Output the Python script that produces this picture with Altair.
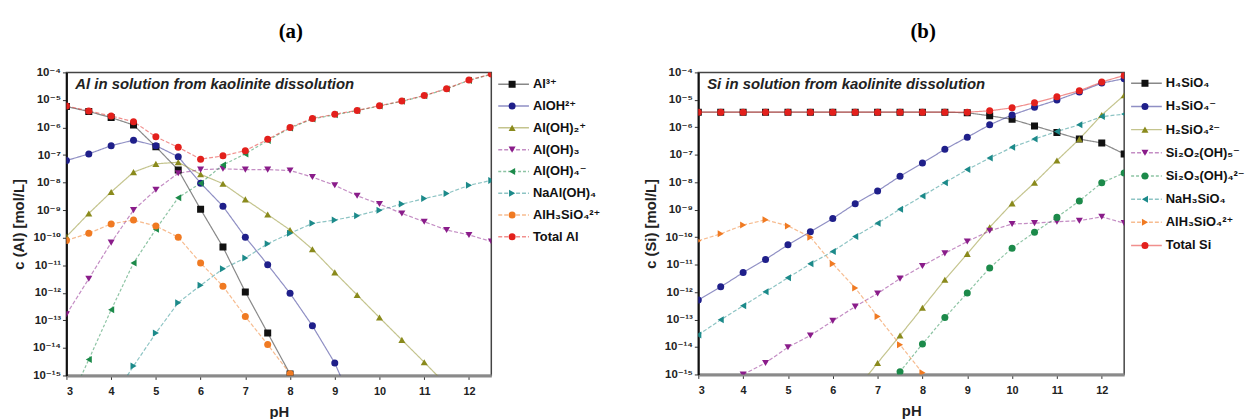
import altair as alt
import pandas as pd

PH = [3, 3.5, 4, 4.5, 5, 5.5, 6, 6.5, 7, 7.5, 8, 8.5, 9, 9.5, 10, 10.5, 11, 11.5, 12, 12.5]

# ---- panel (a): log10 of concentration [mol/L] ----
A_AL3 = [-5.24, -5.42, -5.64, -5.91, -6.70, -7.54, -8.97, -10.34, -11.97, -13.46, -14.95,
         None, None, None, None, None, None, None, None, None]
A_ALOH = [-7.20, -6.96, -6.66, -6.46, -6.66, -7.06, -8.02, -8.86, -9.98, -10.98, -12.02,
          -13.20, -14.55, -16.40, None, None, None, None, None, None]
A_ALOH2 = [-9.96, -9.12, -8.34, -7.62, -7.32, -7.26, -7.70, -8.04, -8.61, -9.16, -9.72,
           -10.42, -11.26, -12.08, -12.90, -13.71, -14.52, -15.35, None, None]
A_ALOH3 = [-12.78, -11.49, -10.18, -9.00, -8.26, -7.66, -7.53, -7.50, -7.53, -7.53, -7.56,
           -7.80, -8.10, -8.48, -8.78, -9.12, -9.42, -9.72, -9.90, -10.14]
A_ALOH4 = [-16.20, -14.42, -12.62, -10.92, -9.69, -8.55, -8.02, -7.36, -6.96, -6.47, -6.02,
           -5.69, -5.54, -5.39, -5.22, -5.05, -4.85, -4.60, -4.29, -4.07]
A_NAAL = [None, None, -15.90, -14.66, -13.46, -12.36, -11.73, -11.13, -10.74, -10.22, -9.84,
          -9.48, -9.36, -9.20, -9.00, -8.78, -8.58, -8.40, -8.10, -7.92]
A_ALSI = [-10.10, -9.84, -9.50, -9.36, -9.58, -9.98, -10.92, -11.76, -12.86, -13.88, -14.94,
          None, None, None, None, None, None, None, None, None]
A_TOTAL = [-5.22, -5.40, -5.58, -5.79, -6.34, -6.72, -7.15, -7.03, -6.84, -6.43, -6.00,
           -5.67, -5.52, -5.38, -5.21, -5.04, -4.84, -4.59, -4.28, -4.06]

A_NAMES = ["Al³⁺", "AlOH²⁺", "Al(OH)₂⁺", "Al(OH)₃", "Al(OH)₄⁻", "NaAl(OH)₄", "AlH₃SiO₄²⁺", "Total Al"]
A_SERIES = [A_AL3, A_ALOH, A_ALOH2, A_ALOH3, A_ALOH4, A_NAAL, A_ALSI, A_TOTAL]
A_COLORS = ["#111111", "#1f1f8a", "#8a8a1c", "#8a1c8a", "#1c8a4a", "#1c8a8a", "#f07a22", "#e3201c"]
A_SHAPES = ["square", "circle", "triangle-up", "triangle-down", "triangle-left", "triangle-right", "circle", "circle"]
A_DASH = [[1, 0], [1, 0], [1, 0], [4, 2], [3, 2], [4, 2], [4, 2], [4, 2]]

# ---- panel (b) ----
B_H4 = [-5.45, -5.45, -5.45, -5.45, -5.45, -5.45, -5.45, -5.45, -5.45, -5.45, -5.45,
        -5.45, -5.47, -5.58, -5.71, -5.95, -6.19, -6.43, -6.57, -6.97]
B_H3 = [-12.29, -11.81, -11.29, -10.81, -10.28, -9.80, -9.32, -8.78, -8.32, -7.78, -7.30,
        -6.80, -6.36, -5.91, -5.55, -5.27, -5.01, -4.71, -4.39, -4.23]
B_H2 = [None, None, None, None, None, None, None, -15.60, -14.58, -13.58, -12.57,
        -11.55, -10.61, -9.64, -8.77, -8.02, -7.21, -6.43, -5.55, -4.83]
B_SI2O2 = [None, None, -15.00, -14.58, -14.01, -13.58, -13.05, -12.53, -12.05, -11.51, -11.05,
           -10.59, -10.16, -9.77, -9.52, -9.49, -9.44, -9.40, -9.26, -9.49]
B_SI2O3 = [None, None, None, None, None, None, None, None, -15.90, -14.90, -13.89,
           -12.93, -12.03, -11.12, -10.40, -9.82, -9.28, -8.68, -8.02, -7.66]
B_NAH3 = [-13.56, -13.01, -12.50, -11.99, -11.48, -10.97, -10.52, -9.98, -9.49, -8.98, -8.50,
          -8.02, -7.54, -7.12, -6.73, -6.43, -6.15, -5.91, -5.61, -5.52]
B_ALSI = [-10.13, -9.88, -9.56, -9.37, -9.59, -10.00, -10.97, -11.85, -12.89, -13.92, -14.94,
          None, None, None, None, None, None, None, None, None]
B_TOTAL = [-5.45, -5.45, -5.45, -5.45, -5.45, -5.45, -5.45, -5.45, -5.45, -5.45, -5.45,
           -5.45, -5.45, -5.40, -5.29, -5.11, -4.89, -4.67, -4.35, -4.11]

B_NAMES = ["H₄SiO₄", "H₃SiO₄⁻", "H₂SiO₄²⁻", "Si₂O₂(OH)₅⁻", "Si₂O₃(OH)₄²⁻", "NaH₃SiO₄", "AlH₃SiO₄²⁺ ", "Total Si"]
B_SERIES = [B_H4, B_H3, B_H2, B_SI2O2, B_SI2O3, B_NAH3, B_ALSI, B_TOTAL]
B_COLORS = ["#111111", "#1f1f8a", "#8a8a1c", "#8a1c8a", "#1c8a4a", "#1c8a8a", "#f07a22", "#e3201c"]
B_SHAPES = ["square", "circle", "triangle-up", "triangle-down", "circle", "triangle-left", "triangle-right", "circle"]
B_DASH = [[1, 0], [1, 0], [1, 0], [4, 2], [3, 2], [4, 2], [4, 2], [1, 0]]

Y_TICKS = [-15, -14, -13, -12, -11, -10, -9, -8, -7, -6, -5, -4]
Y_LABELS = ["10⁻¹⁵", "10⁻¹⁴", "10⁻¹³", "10⁻¹²", "10⁻¹¹", "10⁻¹⁰", "10⁻⁹", "10⁻⁸", "10⁻⁷", "10⁻⁶", "10⁻⁵", "10⁻⁴"]
X_TICKS = [3, 4, 5, 6, 7, 8, 9, 10, 11, 12]

label_expr = "''"
for v, lab in zip(Y_TICKS, Y_LABELS):
    label_expr = f"datum.value == {v} ? '{lab}' : ({label_expr})"

FONT = "Liberation Sans, Arial, DejaVu Sans"


def long_df(names, series):
    rows = []
    for n, vals in zip(names, series):
        for p, v in zip(PH, vals):
            if v is not None:
                rows.append({"species": n, "pH": p, "logc": v})
    return pd.DataFrame(rows)


def panel(names, series, colors, shapes, dashes, ytitle, inner, tag, width, height):
    df = long_df(names, series)
    color = alt.Color("species:N", scale=alt.Scale(domain=names, range=colors), legend=None)
    shape = alt.Shape("species:N", scale=alt.Scale(domain=names, range=shapes), legend=None)
    dash = alt.StrokeDash("species:N", scale=alt.Scale(domain=names, range=dashes), legend=None)
    x = alt.X("pH:Q", scale=alt.Scale(domain=[3, 12.5], nice=False, zero=False),
              axis=alt.Axis(values=X_TICKS, title="pH", format="d", tickSize=4, labelPadding=6,
                            titlePadding=8, domainColor="#8a8a8a", domainWidth=3))
    y = alt.Y("logc:Q", scale=alt.Scale(domain=[-15, -4], nice=False, zero=False),
              axis=alt.Axis(values=Y_TICKS, labelExpr=label_expr, title=ytitle, tickSize=4,
                            labelPadding=2, titlePadding=6, labelFontSize=11.5,
                            domainColor="#111", domainWidth=2))
    lines = alt.Chart(df).mark_line(clip=True, strokeWidth=1.2, opacity=0.5).encode(
        x=x, y=y, color=color, strokeDash=dash, order=alt.Order("pH:Q"))
    pts = alt.Chart(df).mark_point(filled=True, size=50, opacity=1, clip=True).encode(
        x=x, y=y, color=color, shape=shape)
    txt = alt.Chart(pd.DataFrame({"t": [inner]})).mark_text(
        align="left", baseline="middle", font=FONT, fontStyle="italic", fontWeight="bold",
        fontSize=15, color="#222").encode(x=alt.value(9), y=alt.value(12), text="t:N")
    return alt.layer(lines, pts, txt).properties(
        width=width, height=height,
        title=alt.TitleParams(tag, dx=12, offset=25))


def legend(names, colors, shapes, dashes, y0, step, width, height):
    ldf = pd.DataFrame({"species": names})
    color = alt.Color("species:N", scale=alt.Scale(domain=names, range=colors), legend=None)
    shape = alt.Shape("species:N", scale=alt.Scale(domain=names, range=shapes), legend=None)
    dash = alt.StrokeDash("species:N", scale=alt.Scale(domain=names, range=dashes), legend=None)
    yenc = alt.Y("species:N", sort=names,
                 scale=alt.Scale(type="point", domain=names, padding=0,
                                 range=[y0, y0 + step * (len(names) - 1)]),
                 axis=None)
    rule = alt.Chart(ldf).mark_rule(strokeWidth=1.5, opacity=0.5).encode(
        x=alt.value(2), x2=alt.value(33), y=yenc, color=color, strokeDash=dash)
    pts = alt.Chart(ldf).mark_point(filled=True, size=50, opacity=1).encode(
        x=alt.value(16), y=yenc, color=color, shape=shape)
    txt = alt.Chart(ldf).mark_text(align="left", baseline="middle", font=FONT, fontWeight="bold",
                                   fontSize=13, color="#111").encode(
        x=alt.value(37), y=yenc, text="species:N")
    return alt.layer(rule, pts, txt).properties(
        width=width, height=height, view=alt.ViewBackground(stroke=None))


pa = panel(A_NAMES, A_SERIES, A_COLORS, A_SHAPES, A_DASH, "c (Al) [mol/L]",
           "Al in solution from kaolinite dissolution", "(a)", 429, 306)
la = legend(A_NAMES, A_COLORS, A_SHAPES, A_DASH, 12, 22, 199, 306)
pb = panel(B_NAMES, B_SERIES, B_COLORS, B_SHAPES, B_DASH, "c (Si) [mol/L]",
           "Si in solution from kaolinite dissolution", "(b)", 430, 305)
lb = legend(B_NAMES, B_COLORS, B_SHAPES, B_DASH, 11, 23.4, 100, 305)

chart = alt.hconcat(pa, la, pb, lb, spacing=5, bounds="flush").resolve_scale(
    x="independent", y="independent", color="independent", shape="independent",
    strokeDash="independent"
).properties(padding={"top": 10, "left": 2, "right": 0, "bottom": 0}, background="white").configure_view(
    stroke="#444", strokeWidth=1.5
).configure_axis(
    grid=False, labelFont=FONT, labelFontWeight="bold", labelFontSize=11, labelColor="#222",
    titleFont=FONT, titleFontWeight="bold", titleFontSize=15, titleColor="#222",
    tickColor="#333"
).configure_title(
    font="Liberation Serif", fontSize=21, fontWeight="bold", anchor="middle", color="#000"
)

chart.save("out.html", embed_options={"renderer": "svg", "actions": False})
